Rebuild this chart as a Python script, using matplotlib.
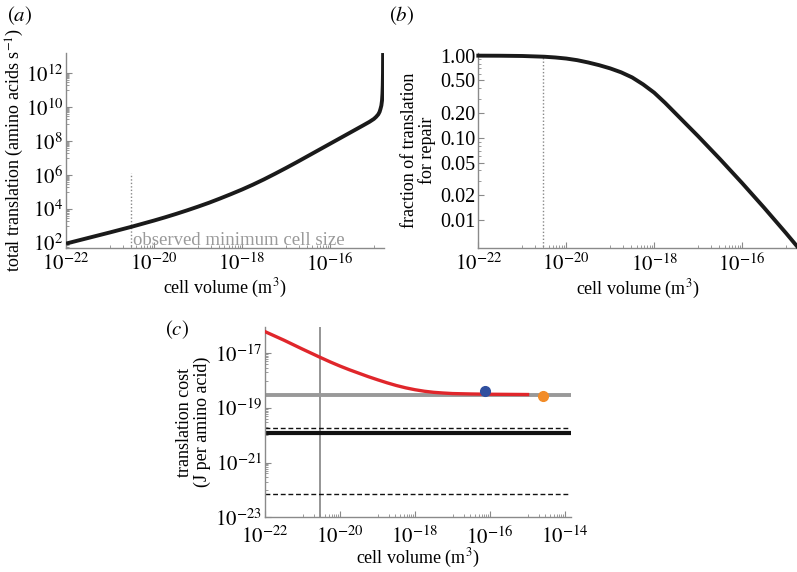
import numpy as np
import matplotlib
matplotlib.use("Agg")
import matplotlib.pyplot as plt
from matplotlib.ticker import FixedLocator, NullFormatter

plt.rcParams['font.family'] = ['Liberation Serif', 'DejaVu Serif']
plt.rcParams['mathtext.fontset'] = 'stix'

# ---------------- data (log10 values) ----------------
# panel (a): total translation vs cell volume
a_logV = [-22.0, -21.75, -21.5, -21.25, -21.0, -20.75, -20.5, -20.25, -20.0, -19.75,
          -19.5, -19.25, -19.0, -18.75, -18.5, -18.25, -18.0, -17.75, -17.5, -17.25,
          -17.0, -16.75, -16.5, -16.25, -16.0, -15.75, -15.5, -15.25, -15.1, -15.0,
          -14.95, -14.9, -14.87, -14.85, -14.83, -14.815, -14.805, -14.798, -14.793, -14.79]
a_logT = [1.95, 2.115, 2.28, 2.445, 2.61, 2.78, 2.95, 3.13, 3.31, 3.50,
          3.70, 3.91, 4.13, 4.36, 4.61, 4.87, 5.14, 5.43, 5.74, 6.07,
          6.41, 6.76, 7.12, 7.48, 7.84, 8.20, 8.56, 8.92, 9.14, 9.31,
          9.43, 9.58, 9.73, 9.90, 10.1, 10.4, 10.8, 11.3, 12.0, 13.2]
obs_min_logV = -20.53
a_dotted_top = 6.1

# panel (b): fraction of translation for repair
b_logV = [-22.0, -21.5, -21.0, -20.5, -20.25, -20.0, -19.75, -19.5, -19.25, -19.0,
          -18.75, -18.5, -18.25, -18.0, -17.75, -17.5, -17.25, -17.0, -16.75, -16.5,
          -16.25, -16.0, -15.75, -15.5, -15.25, -15.0, -14.75]
b_logF = [0.0, -0.001, -0.004, -0.013, -0.022, -0.035, -0.055, -0.083, -0.116, -0.155,
          -0.203, -0.265, -0.35, -0.45, -0.575, -0.71, -0.845, -0.98, -1.12, -1.26,
          -1.405, -1.55, -1.70, -1.85, -2.005, -2.16, -2.32]
b_yticks = [1.00, 0.50, 0.20, 0.10, 0.05, 0.02, 0.01]
b_ylabels = ["1.00", "0.50", "0.20", "0.10", "0.05", "0.02", "0.01"]

# panel (c): translation cost
c_logV = [-22.0, -21.75, -21.5, -21.25, -21.0, -20.75, -20.5, -20.25, -20.0, -19.75,
          -19.5, -19.25, -19.0, -18.75, -18.5, -18.25, -18.0, -17.75, -17.5, -17.25,
          -17.0, -16.5, -16.0, -15.5, -15.0]
c_logC = [-16.21, -16.365, -16.52, -16.685, -16.85, -17.01, -17.17, -17.325, -17.47, -17.605,
          -17.73, -17.855, -17.97, -18.08, -18.18, -18.265, -18.335, -18.39, -18.43, -18.455,
          -18.475, -18.49, -18.50, -18.505, -18.51]
c_gray_level = -18.53
c_black_level = -19.93
c_dash_levels = [-19.73, -22.16]
c_blue_pt = (-16.13, -18.39)
c_orange_pt = (-14.59, -18.55)

# ---------------- figure ----------------
W, H = 797, 572
fig = plt.figure(figsize=(W / 100, H / 100), dpi=100)

def frac(l, r, t, b):
    return [l / W, 1 - b / H, (r - l) / W, (b - t) / H]

SP = '#8a8a8a'
FS = 15      # tick labels
LFS = 13     # axis labels

def style(ax, major_exp, minor_exp_x):
    for s in ['top', 'right']:
        ax.spines[s].set_visible(False)
    for s in ['left', 'bottom']:
        ax.spines[s].set_color(SP)
        ax.spines[s].set_linewidth(1.0)
    ax.set_xscale('log')
    ax.set_yscale('log')
    ax.xaxis.set_major_locator(FixedLocator([10.0 ** e for e in major_exp]))
    ax.set_xticklabels([r'$10^{%d}$' % e for e in major_exp])
    mx = [k * 10.0 ** m for m in minor_exp_x for k in range(1, 10)]
    ax.xaxis.set_minor_locator(FixedLocator(mx))
    ax.xaxis.set_minor_formatter(NullFormatter())
    ax.tick_params(which='major', direction='in', length=4, width=0.8, color=SP,
                   labelsize=FS, pad=4)
    ax.tick_params(which='minor', direction='in', length=2, width=0.6, color=SP)

# ---- panel (a)
axa = fig.add_axes(frac(66, 384, 52.7, 248))
axa.plot(10.0 ** np.array(a_logV), 10.0 ** np.array(a_logT), color='#1a1a1a', lw=2.8,
         solid_capstyle='butt', zorder=3)
axa.plot([10 ** obs_min_logV] * 2, [10 ** 1.0, 10 ** a_dotted_top], color='#888888',
         lw=1.0, ls=(0, (1, 1.5)), zorder=2)
style(axa, [-22, -20, -18, -16], [-21, -19, -17, -15])
axa.set_xlim(1e-22, 10 ** -14.77)
axa.set_ylim(10 ** 1.69, 10 ** 13.22)
ya = [2, 4, 6, 8, 10, 12]
axa.yaxis.set_major_locator(FixedLocator([10.0 ** e for e in ya]))
axa.set_yticklabels([r'$10^{%d}$' % e for e in ya])
axa.yaxis.set_minor_locator(FixedLocator([k * 10.0 ** (e - 1) for e in ya for k in range(1, 10)]))
axa.yaxis.set_minor_formatter(NullFormatter())
axa.tick_params(axis='y', which='major', pad=2)
axa.text(10 ** (obs_min_logV + 0.06), 10 ** 1.86, 'observed minimum cell size',
         color='#9a9a9a', fontsize=13.5, va='baseline', ha='left')
axa.set_xlabel(r'cell volume (m$^3$)', fontsize=LFS, labelpad=1)
axa.set_ylabel(r'total translation (amino acids s$^{-1}$)', fontsize=LFS, labelpad=0)
fig.text(7 / W, 1 - 16 / H, r'$(a)$', fontsize=15, va='center', ha='left')

# ---- panel (b)
axb = fig.add_axes(frac(478.3, 797, 52.7, 248.3))
axb.plot(10.0 ** np.array(b_logV), 10.0 ** np.array(b_logF), color='#1a1a1a', lw=2.8,
         zorder=3, clip_on=False)
axb.plot([10 ** obs_min_logV] * 2, [10 ** -3, 10 ** np.interp(obs_min_logV, b_logV, b_logF)],
         color='#888888', lw=1.0, ls=(0, (1, 1.5)), zorder=2)
style(axb, [-22, -20, -18, -16], [-21, -19, -17, -15])
axb.set_xlim(1e-22, 10 ** -14.75)
axb.set_ylim(10 ** -2.345, 10 ** 0.036)
axb.yaxis.set_major_locator(FixedLocator(b_yticks))
axb.set_yticklabels(b_ylabels)
bminor = [0.03, 0.04, 0.06, 0.07, 0.08, 0.09, 0.3, 0.4, 0.6, 0.7, 0.8, 0.9]
axb.yaxis.set_minor_locator(FixedLocator(bminor))
axb.yaxis.set_minor_formatter(NullFormatter())
axb.tick_params(axis='y', which='major', pad=2, labelsize=14.5)
axb.set_xlabel(r'cell volume (m$^3$)', fontsize=LFS, labelpad=1)
axb.set_ylabel('fraction of translation\nfor repair', fontsize=LFS, labelpad=3,
               linespacing=1.0)
fig.text(389 / W, 1 - 16 / H, r'$(b)$', fontsize=15, va='center', ha='left')

# ---- panel (c)
axc = fig.add_axes(frac(265, 570.7, 326.7, 517.3))
xmaj = [-22, -20, -18, -16, -14]
style(axc, xmaj, [-21, -19, -17, -15])
axc.set_xlim(1e-22, 10 ** -13.85)
axc.set_ylim(1e-23, 10 ** -16.03)
yc = [-17, -19, -21, -23]
axc.yaxis.set_major_locator(FixedLocator([10.0 ** e for e in yc]))
axc.set_yticklabels([r'$10^{%d}$' % e for e in yc])
axc.yaxis.set_minor_locator(FixedLocator([k * 10.0 ** (e - 1) for e in yc for k in range(1, 10)]))
axc.yaxis.set_minor_formatter(NullFormatter())
axc.tick_params(axis='y', which='major', pad=2)
axc.tick_params(axis='x', which='major', pad=6.5)
axc.axvline(10 ** obs_min_logV, color='#8c8c8c', lw=1.3, zorder=1)
axc.axhline(10 ** c_gray_level, color='#999999', lw=2.8, zorder=2)
axc.axhline(10 ** c_black_level, color='#111111', lw=3.0, zorder=2)
for lv in c_dash_levels:
    axc.axhline(10 ** lv, color='#111111', lw=1.0, ls=(0, (3.5, 2)), zorder=2)
axc.plot(10.0 ** np.array(c_logV), 10.0 ** np.array(c_logC), color='#e0262b', lw=2.4,
         zorder=3)
axc.plot(10 ** c_blue_pt[0], 10 ** c_blue_pt[1], 'o', color='#2f4f9f', ms=7, zorder=4,
         clip_on=False)
axc.plot(10 ** c_orange_pt[0], 10 ** c_orange_pt[1], 'o', color='#f28c28', ms=7, zorder=4,
         clip_on=False)
axc.set_xlabel(r'cell volume (m$^3$)', fontsize=LFS, labelpad=-1)
axc.set_ylabel('translation cost\n(J per amino acid)', fontsize=LFS, labelpad=3,
               linespacing=1.0)
fig.text(165 / W, 1 - 330 / H, r'$(c)$', fontsize=15, va='center', ha='left')

fig.savefig('out.png', dpi=100)
